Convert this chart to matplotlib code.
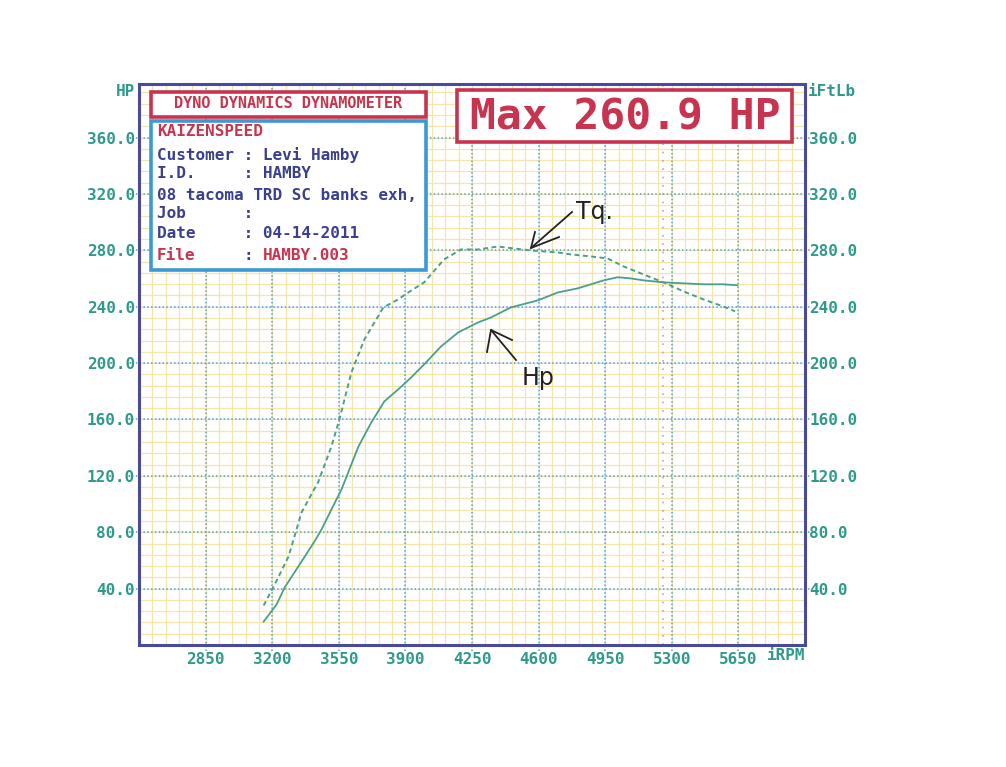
# dyno sheet: HP and torque vs RPM
import numpy as np
import matplotlib
matplotlib.use('Agg')
import matplotlib.pyplot as plt
from matplotlib.patches import Rectangle
from matplotlib.ticker import FixedLocator, FormatStrFormatter

# data
rpm_hp = [3155, 3223, 3265, 3354, 3422, 3459, 3511, 3564, 3653, 3721, 3789,
          3862, 3930, 3998, 4087, 4177, 4281, 4350, 4454, 4596, 4701, 4805,
          4942, 5015, 5083, 5151, 5256, 5361, 5466, 5570, 5644]
hp = [16.6, 28.7, 40.7, 59.2, 73.4, 81.9, 96.1, 110.3, 140.8, 157.9, 172.8,
      181.3, 189.8, 199.0, 211.8, 221.7, 228.8, 232.4, 239.5, 244.5, 250.1,
      253.0, 258.7, 260.9, 260.1, 258.7, 257.3, 256.6, 255.9, 255.9, 255.2]
rpm_tq = [3155, 3213, 3286, 3354, 3443, 3511, 3553, 3616, 3684, 3784, 3862,
          3915, 3998, 4103, 4192, 4281, 4386, 4559, 4701, 4769, 4873, 4963,
          5046, 5151, 5256, 5361, 5466, 5570, 5633]
tq = [28.0, 42.9, 62.8, 94.0, 116.0, 140.8, 160.0, 193.3, 216.7, 239.5, 245.2,
      250.1, 257.2, 273.5, 280.6, 280.6, 282.7, 279.9, 278.5, 277.1, 275.7,
      274.2, 268.6, 262.9, 257.3, 250.9, 245.2, 240.2, 236.7]
x_ticks = [2850, 3200, 3550, 3900, 4250, 4600, 4950, 5300, 5650]
y_ticks = [40, 80, 120, 160, 200, 240, 280, 320, 360]
crossover_rpm = 5252

header = 'DYNO DYNAMICS DYNAMOMETER'
shop = 'KAIZENSPEED'
info_lines = ['Customer : Levi Hamby', 'I.D.     : HAMBY',
              '08 tacoma TRD SC banks exh,', 'Job      :', 'Date     : 04-14-2011']
file_label = 'File'
file_value = 'HAMBY.003'
max_text = 'Max 260.9 HP'

# colours
teal = '#2f9a8a'
curve = '#4a9f8e'
frame = '#4a4a98'
red = '#c8344f'
navy = '#3b3f8e'
blue = '#3a9ad6'
yellow = '#f3e6aa'
grid_blue = '#4fa3d6'

plt.rcParams['font.family'] = ['DejaVu Sans Mono']
plt.rcParams['font.weight'] = 'bold'

W, H = 1006, 767
fig = plt.figure(figsize=(W / 100, H / 100), dpi=100)


def px(x, y):
    return x / W, 1 - y / H


# axes box at pixel coords (139,84)-(805,645)
ax = fig.add_axes([139 / W, 1 - 645 / H, (805 - 139) / W, (645 - 84) / H])
ax.set_xlim(2500, 6000)
ax.set_ylim(0, 398)

# yellow minor grid
xt = ax.get_xaxis_transform()
yt = ax.get_yaxis_transform()
ax.vlines(np.arange(2570, 6000, 70), 0, 1, transform=xt, color=yellow, lw=0.9, zorder=0.5)
ax.hlines(np.arange(8, 398, 8), 0, 1, transform=yt, color=yellow, lw=0.9, zorder=0.5)

# blue dotted major grid, a little past the frame
ax.vlines(x_ticks, -0.01, 1, transform=xt, color=grid_blue, lw=1.1,
          linestyles=(0, (1, 1.5)), zorder=0.7, clip_on=False)
ax.hlines(y_ticks, -0.01, 1.01, transform=yt, color=grid_blue, lw=1.1,
          linestyles=(0, (1, 1.5)), zorder=0.7, clip_on=False)

# 5252 crossover marker
ax.axvline(crossover_rpm, color='#d79aac', lw=1.2, ls=(0, (1, 4)), zorder=0.8)

# curves
ax.plot(rpm_hp, hp, color=curve, lw=1.3, zorder=2)
ax.plot(rpm_tq, tq, color=curve, lw=1.4, ls=(0, (2.5, 1.8)), zorder=2)

# ticks and labels
ax.xaxis.set_major_locator(FixedLocator(x_ticks))
ax.yaxis.set_major_locator(FixedLocator(y_ticks))
ax.yaxis.set_major_formatter(FormatStrFormatter('%.1f'))
ax.tick_params(length=0, labelsize=11.5, labelcolor=teal)
ax.tick_params(axis='y', labelright=True, pad=3)
ax.tick_params(axis='x', pad=5)
for s in ax.spines.values():
    s.set_color(frame)
    s.set_linewidth(2.2)
    s.set_zorder(3)

fig.text(*px(135, 92), 'HP', color=teal, fontsize=11.5, ha='right', va='center')
fig.text(*px(808, 92), 'iFtLb', color=teal, fontsize=11.5, ha='left', va='center')
fig.text(*px(767, 656), 'iRPM', color=teal, fontsize=11.5, ha='left', va='center')


def box(x0, y0, x1, y1, color):
    r = Rectangle(px(x0, y1), (x1 - x0) / W, (y1 - y0) / H, transform=fig.transFigure,
                  facecolor='white', edgecolor=color, lw=2.6, zorder=4)
    fig.add_artist(r)


box(151, 92, 426, 117, red)
box(151, 121, 426, 270, blue)
box(457, 90, 792, 142, red)

fs = 11.5
char_w = 0.602 * fs * 100 / 72  # monospace advance in pixels
fig.text(*px(288, 104), header, color=red, fontsize=11, ha='center', va='center', zorder=5)
fig.text(*px(157, 132), shop, color=red, fontsize=fs, ha='left', va='center', zorder=5)
for line, y in zip(info_lines, [155, 174, 195, 213, 233]):
    fig.text(*px(157, y), line, color=navy, fontsize=fs, ha='left', va='center', zorder=5)
fig.text(*px(157, 256), file_label, color=red, fontsize=fs, ha='left', va='center', zorder=5)
fig.text(*px(157 + 9 * char_w, 256), ':', color=navy, fontsize=fs, ha='left', va='center', zorder=5)
fig.text(*px(157 + 11 * char_w, 256), file_value, color=red, fontsize=fs,
         ha='left', va='center', zorder=5)
fig.text(*px(625, 117), max_text, color=red, fontsize=31, ha='center', va='center', zorder=5)

# handwritten notes
pen = dict(color='#222222', lw=1.3)
fig.add_artist(plt.Line2D(*zip(px(572, 212), px(531, 248)), transform=fig.transFigure, **pen))
fig.add_artist(plt.Line2D(*zip(px(535, 232), px(531, 248), px(559, 237)), transform=fig.transFigure, **pen))
fig.text(*px(576, 212), 'Tq.', color='#222222', fontsize=17, fontweight='normal',
         family='DejaVu Sans', ha='left', va='center')
fig.add_artist(plt.Line2D(*zip(px(516, 360), px(491, 330)), transform=fig.transFigure, **pen))
fig.add_artist(plt.Line2D(*zip(px(487, 352), px(491, 330), px(512, 340)), transform=fig.transFigure, **pen))
fig.text(*px(522, 378), 'Hp', color='#222222', fontsize=17, fontweight='normal',
         family='DejaVu Sans', ha='left', va='center')

fig.savefig('out.png', dpi=100, facecolor='white')
